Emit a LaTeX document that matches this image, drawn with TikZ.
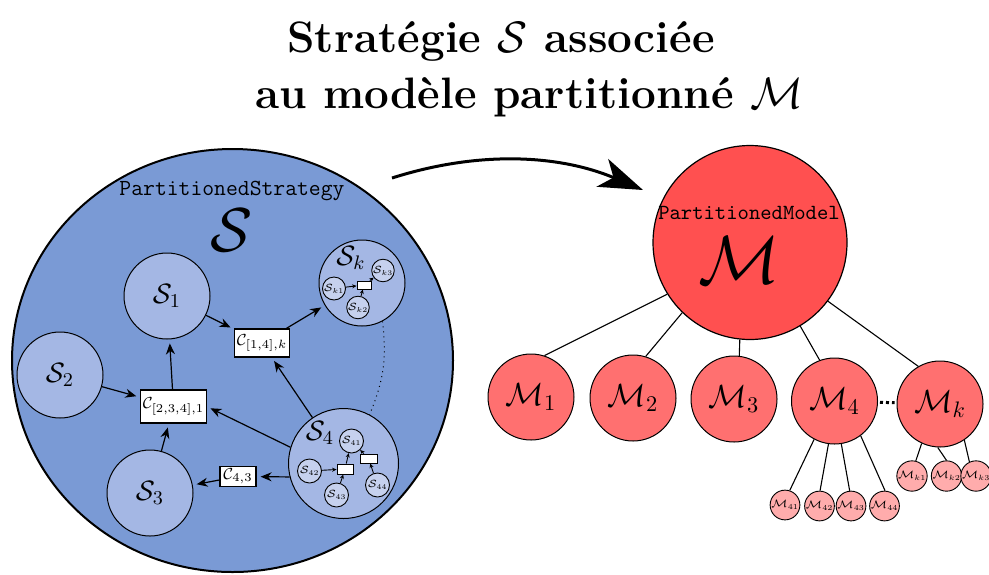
\RequirePackage{fix-cm}
\documentclass[tikz,border=0pt]{standalone}
\usepackage{amsmath}
\usetikzlibrary{arrows.meta,shapes.geometric}
\definecolor{stratblue}{RGB}{122,154,213}
\definecolor{subblue}{RGB}{164,183,228}
\definecolor{tinyblue}{RGB}{198,209,238}
\definecolor{modelred}{RGB}{255,80,80}
\definecolor{submodelred}{RGB}{255,112,112}
\definecolor{tinyred}{RGB}{255,172,172}
\tikzset{
  stratshape/.style={draw, ellipse, line width=1pt, fill=stratblue, minimum width=220.5pt, minimum height=211.5pt, inner sep=0pt},
  subcircle/.style={draw, circle, fill=subblue, line width=0.5pt, minimum size=43pt, inner sep=0pt, font=\fontsize{14}{16}\selectfont},
  bigsubcircle/.style={subcircle, minimum size=55pt},
  sublabel/.style={font=\fontsize{14}{16}\selectfont, inner sep=0pt},
  tinycircle/.style={draw, circle, fill=tinyblue, line width=0.45pt, minimum size=12pt, inner sep=0pt, font=\fontsize{5.2}{6}\selectfont},
  combbox/.style={draw, fill=white, line width=0.6pt, inner sep=1pt, font=\fontsize{8}{9}\selectfont},
  tinybox/.style={draw, fill=white, line width=0.45pt, inner sep=0pt},
  modelcircle/.style={draw, circle, fill=modelred, line width=0.6pt, minimum size=97pt, inner sep=0pt},
  submodel/.style={draw, circle, fill=submodelred, line width=0.5pt, minimum size=43pt, inner sep=0pt, font=\fontsize{16}{18}\selectfont},
  tinymodel/.style={draw, circle, fill=tinyred, line width=0.45pt, minimum size=12pt, inner sep=0pt, font=\fontsize{5.4}{6}\selectfont},
  classname/.style={inner sep=0pt, font=\fontsize{11.5}{13}\ttfamily},
  bigsymbol/.style={inner sep=0pt, anchor=base},
  titletext/.style={inner sep=0pt, font=\fontsize{22}{26}\selectfont\bfseries},
  arrow/.style={-{Stealth[length=5.5pt, width=4.5pt]}, line width=0.6pt, shorten >=2pt},
  lightarrow/.style={-{Stealth[length=2.2pt, width=2pt]}, line width=0.45pt},
  bigarrow/.style={-{Stealth[length=22pt, width=15pt, inset=6pt]}, line width=1.5pt},
  branch/.style={line width=0.55pt},
  dotsline/.style={line width=1.5pt, dash pattern=on 1.5pt off 1.5pt, shorten <=1pt, shorten >=1pt}
}

\begin{document}
\begin{tikzpicture}[x=0.5pt, y=-0.5pt]
  \useasboundingbox (0,0) rectangle (989,574);

  \node[titletext, anchor=base] (titletop) at (501,52) {Stratégie $\mathcal{S}$ associée};
  \node[titletext, anchor=base] (titlebottom) at (529,108) {au modèle partitionné $\mathcal{M}$};

  \node[stratshape] (strat) at (232.5,360.5) {};
  \node[classname] (stratname) at (232,191) {PartitionedStrategy};
  \node[bigsymbol, font=\fontsize{31}{34}\selectfont] (stratsym) at (232,251) {$\mathcal{S}$};

  \node[subcircle] (S1) at (167,296) {$\mathcal{S}_1$};
  \node[subcircle] (S2) at (60,375) {$\mathcal{S}_2$};
  \node[subcircle] (S3) at (150,493) {$\mathcal{S}_3$};
  \node[subcircle] (Sk) at (362,283) {};
  \node[sublabel] (Sklabel) at (351,258) {$\mathcal{S}_k$};
  \node[bigsubcircle] (S4) at (343.5,463.5) {};
  \node[sublabel] (S4label) at (320,433) {$\mathcal{S}_4$};

  \node[combbox, minimum width=28.5pt, minimum height=16.5pt] (C2341) at (173.5,406.5) {$\mathcal{C}_{[2,3,4],1}$};
  \node[combbox, minimum width=24pt, minimum height=14pt] (C14k) at (262,343) {$\mathcal{C}_{[1,4],k}$};
  \node[combbox, minimum width=18pt, minimum height=10pt] (C43) at (238,476.5) {$\mathcal{C}_{4,3}$};

  \node[tinycircle, minimum size=11.5pt] (Sk1) at (334,288.5) {$\mathcal{S}_{k1}$};
  \node[tinycircle, minimum size=11pt] (Sk2) at (358,307.5) {$\mathcal{S}_{k2}$};
  \node[tinycircle, minimum size=10.5pt] (Sk3) at (383,270.5) {$\mathcal{S}_{k3}$};
  \node[tinybox, minimum width=7pt, minimum height=4pt] (Skbox) at (364,285) {};

  \node[tinycircle] (S41) at (351.5,441) {$\mathcal{S}_{41}$};
  \node[tinycircle] (S42) at (309.5,471) {$\mathcal{S}_{42}$};
  \node[tinycircle] (S43) at (336.5,495) {$\mathcal{S}_{43}$};
  \node[tinycircle] (S44) at (377.5,485) {$\mathcal{S}_{44}$};
  \node[tinybox, minimum width=8pt, minimum height=5pt] (S4boxa) at (345,469) {};
  \node[tinybox, minimum width=8.5pt, minimum height=4.5pt] (S4boxb) at (368.5,458.5) {};

  \draw[arrow] (S1) -- (C14k);
  \draw[arrow] (C14k) -- (Sk);
  \draw[arrow] (S4) -- (C14k);
  \draw[arrow] (C2341) -- (S1);
  \draw[arrow] (S2) -- (C2341);
  \draw[arrow] (S3) -- (C2341);
  \draw[arrow] (S4.163) -- (C2341.east);
  \draw[arrow] (S4.194) -- (C43);
  \draw[arrow] (C43) -- (S3);
  \draw[dotted, line width=0.5pt] (Sk.298) to[bend left=15] (S4.62);

  \draw[lightarrow] (Sk1) -- (Skbox);
  \draw[lightarrow] (Sk2) -- (Skbox);
  \draw[lightarrow] (Skbox) -- (Sk3);
  \draw[lightarrow] (S42) -- (S4boxa);
  \draw[lightarrow] (S43) -- (S4boxa);
  \draw[lightarrow] (S4boxa) -- (S41);
  \draw[lightarrow] (S44) -- (S4boxb);
  \draw[lightarrow] (S4boxb) -- (S41);

  \coordinate (arrowfrom) at (392,178);
  \coordinate (arrowto) at (643,190);
  \draw[bigarrow] (arrowfrom) .. controls (480,150) and (560,155) .. (arrowto);

  \node[modelcircle] (M) at (750,242.5) {};
  \node[classname, font=\fontsize{10.8}{12}\ttfamily] (modelname) at (749,213) {PartitionedModel};
  \node[bigsymbol, font=\fontsize{34}{36}\selectfont] (modelsym) at (739,283) {$\mathcal{M}$};

  \node[submodel] (M1) at (531,397) {$\mathcal{M}_1$};
  \node[submodel] (M2) at (633,398) {$\mathcal{M}_2$};
  \node[submodel] (M3) at (734,399) {$\mathcal{M}_3$};
  \node[submodel] (M4) at (834.5,401) {$\mathcal{M}_4$};
  \node[submodel] (Mk) at (940,404) {$\mathcal{M}_k$};

  \node[tinymodel] (M41) at (785,505) {$\mathcal{M}_{41}$};
  \node[tinymodel] (M42) at (819.5,506) {$\mathcal{M}_{42}$};
  \node[tinymodel] (M43) at (851,506) {$\mathcal{M}_{43}$};
  \node[tinymodel] (M44) at (884.5,506) {$\mathcal{M}_{44}$};
  \node[tinymodel] (Mk1) at (912,476) {$\mathcal{M}_{k1}$};
  \node[tinymodel] (Mk2) at (946.5,476) {$\mathcal{M}_{k2}$};
  \node[tinymodel] (Mk3) at (976,476) {$\mathcal{M}_{k3}$};

  \draw[branch] (M.212) -- (M1.72);
  \draw[branch] (M.226) -- (M2.73);
  \draw[branch] (M.264) -- (M3.83);
  \draw[branch] (M.301) -- (M4.110);
  \draw[branch] (M.323) -- (Mk.120);
  \draw[dotsline] (M4) -- (Mk);

  \draw[branch] (M4.242) -- (M41.72);
  \draw[branch] (M4.262) -- (M42.88);
  \draw[branch] (M4.279) -- (M43.95);
  \draw[branch] (M4.307) -- (M44.88);
  \draw[branch] (Mk.245) -- (Mk1.76);
  \draw[branch] (Mk.267) -- (Mk2.90);
  \draw[branch] (Mk.304) -- (Mk3.115);
\end{tikzpicture}
\end{document}
